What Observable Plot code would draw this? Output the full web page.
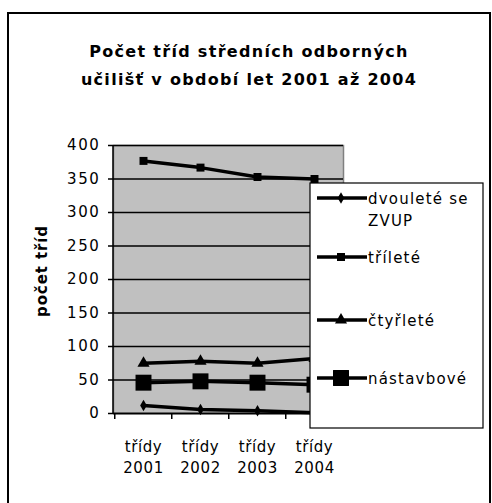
<!DOCTYPE html>
<html><head><meta charset="utf-8">
<script src="https://cdn.jsdelivr.net/npm/d3@7"></script>
<script src="https://cdn.jsdelivr.net/npm/@observablehq/plot@0.6"></script>
<style>body{margin:0;background:#fff;} #chart svg{display:block;}</style>
</head><body><div id="chart"></div>
<script>
// ---- data ----
const titleLines = ["Počet tříd středních odborných", "učilišť v období let 2001 až 2004"];
const yTitle = "počet tříd";
const categories = ["třídy 2001", "třídy 2002", "třídy 2003", "třídy 2004"];
const seriesNames = ["dvouleté se ZVUP", "tříleté", "čtyřleté", "nástavbové"];
const legendLines = [["dvouleté se", "ZVUP"], ["tříleté"], ["čtyřleté"], ["nástavbové"]];
const dvoulete = [12, 6, 4, 1];
const trilete = [377, 367, 353, 350];
const ctyrlete = [75, 78, 75, 82];
const nastavbove = [46, 48, 46, 43];
const yTicks = [0, 50, 100, 150, 200, 250, 300, 350, 400];

// ---- styles ----
const seriesValues = [dvoulete, trilete, ctyrlete, nastavbove];
const symbols = ["diamond", "square", "triangle", "square"];
const radii = [3.5, 4.5, 4.5, 9];
const d3Symbols = {diamond: d3.symbolDiamond, square: d3.symbolSquare, triangle: d3.symbolTriangle};

const W = 492, H = 503;
const mL = 113, mR = 149, mT = 145, mB = 90;
const step = (W - mL - mR) / categories.length;

const data = seriesNames.flatMap((s, i) => categories.map((c, j) => ({series: s, cat: c, value: seriesValues[i][j]})));

const chart = Plot.plot({
  width: W, height: H,
  marginLeft: mL, marginRight: mR, marginTop: mT, marginBottom: mB,
  style: {fontFamily: "DejaVu Sans", fontSize: "15px", background: "white", color: "black", overflow: "visible"},
  x: {type: "point", domain: categories, padding: 0.5, axis: null},
  y: {domain: [0, 400], axis: null},
  marks: [
    Plot.frame({fill: "#c0c0c0", stroke: "#808080", strokeWidth: 1.5}),
    Plot.gridY({ticks: yTicks, stroke: "black", strokeOpacity: 1, strokeWidth: 1.5}),
    Plot.axisY({ticks: yTicks, tickSize: 5, tickPadding: 8, label: null, fontSize: 15, strokeWidth: 1.5}),
    Plot.axisX({ticks: categories, tickSize: 0, tickPadding: 24, tickFormat: d => d.replace(" ", "\n"), lineHeight: 1.4, label: null, fontSize: 15}),
    Plot.axisX({ticks: categories, tickSize: 6, tickFormat: () => "", dx: -step / 2, label: null, strokeWidth: 1.5}),
    Plot.ruleY([0], {stroke: "black", strokeWidth: 1.5}),
    Plot.lineY(data, {x: "cat", y: "value", z: "series", stroke: "black", strokeWidth: 3.5}),
    ...seriesNames.map((s, i) => Plot.dot(data.filter(d => d.series === s), {
      x: "cat", y: "value", symbol: symbols[i], r: radii[i], fill: "black", stroke: "none"
    }))
  ]
});
document.getElementById("chart").appendChild(chart);

const svg = d3.select(chart);
const ys = chart.scale("y");
svg.selectAll('g[aria-label="y-axis tick label"] text').style("letter-spacing", "1.6px");
svg.selectAll('g[aria-label="x-axis tick label"] text').style("letter-spacing", "0.6px");

// left axis line
svg.append("line")
  .attr("x1", mL).attr("x2", mL)
  .attr("y1", ys.apply(400)).attr("y2", ys.apply(0))
  .attr("stroke", "black").attr("stroke-width", 1.5);

// outer chart border
svg.append("rect")
  .attr("x", 8).attr("y", 13).attr("width", 482).attr("height", 510)
  .attr("fill", "none").attr("stroke", "black").attr("stroke-width", 2);

// title
const t = svg.append("text")
  .attr("text-anchor", "middle")
  .attr("font-family", "DejaVu Sans").attr("font-weight", "bold").attr("font-size", 16)
  .style("letter-spacing", "1.3px");
titleLines.forEach((line, i) => t.append("tspan").attr("x", 249).attr("y", 57 + i * 28).text(line));

// y title
svg.append("text")
  .attr("transform", `translate(47,${(ys.apply(400) + ys.apply(0)) / 2 - 8}) rotate(-90)`)
  .attr("text-anchor", "middle")
  .attr("font-family", "DejaVu Sans").attr("font-weight", "bold").attr("font-size", 15)
  .style("letter-spacing", "0.9px")
  .text(yTitle);

// legend
const lg = svg.append("g");
lg.append("rect").attr("x", 310).attr("y", 183).attr("width", 173).attr("height", 245)
  .attr("fill", "white").attr("stroke", "black").attr("stroke-width", 1.2);
const legendY = [198, 257, 320, 378];
seriesNames.forEach((s, i) => {
  const y = legendY[i];
  lg.append("line").attr("x1", 317).attr("x2", 367).attr("y1", y).attr("y2", y)
    .attr("stroke", "black").attr("stroke-width", 3.5);
  lg.append("path")
    .attr("transform", `translate(341,${y})`)
    .attr("d", d3.symbol(d3Symbols[symbols[i]], Math.PI * radii[i] * radii[i])())
    .attr("fill", "black");
  const tx = lg.append("text").attr("text-anchor", "start")
    .attr("font-family", "DejaVu Sans").attr("font-size", 15)
    .style("letter-spacing", "1.2px");
  legendLines[i].forEach((ln, k) => tx.append("tspan").attr("x", 368).attr("y", y + 6 + k * 22).text(ln));
});
</script>
</body></html>
